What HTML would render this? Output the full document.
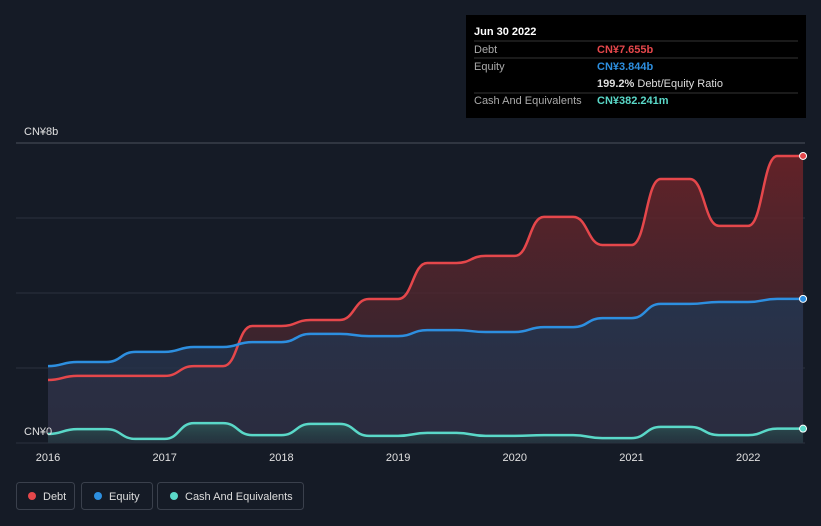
<!DOCTYPE html>
<html><head><meta charset="utf-8"><style>
body{margin:0;background:#151b26;font-family:"Liberation Sans",sans-serif;}
svg{display:block}
</style></head><body>
<svg width="821" height="526" id="chart">
<defs>
<linearGradient id="dg" x1="0" y1="0" x2="0" y2="1"><stop offset="0" stop-color="#6b2328" stop-opacity="0.9"/><stop offset="1" stop-color="#3a2a35" stop-opacity="0.6"/></linearGradient>
<linearGradient id="eg" x1="0" y1="0" x2="0" y2="1"><stop offset="0" stop-color="#23354f" stop-opacity="0.9"/><stop offset="1" stop-color="#2a2f45" stop-opacity="0.7"/></linearGradient>
<linearGradient id="cg" x1="0" y1="0" x2="0" y2="1"><stop offset="0" stop-color="#2e5a58" stop-opacity="0.8"/><stop offset="1" stop-color="#1f3a3e" stop-opacity="0.5"/></linearGradient>
</defs>
<g id="grid"></g>
<g id="areas"></g>
<g id="lines"></g>
<g id="xaxis"></g>
<text x="24" y="135" fill="#e0e0e0" font-size="11">CN¥8b</text>
<text x="24" y="435" fill="#e0e0e0" font-size="11">CN¥0</text>
<g>
<rect x="466" y="15" width="340" height="103" fill="#000"/>
<text x="474" y="35" fill="#fff" font-size="11" font-weight="bold">Jun 30 2022</text>
<line x1="474" y1="41" x2="798" y2="41" stroke="#333"/>
<text x="474" y="53" fill="#aaa" font-size="11">Debt</text>
<text x="597" y="53" fill="#e5474b" font-size="11" font-weight="bold">CN¥7.655b</text>
<line x1="474" y1="58" x2="798" y2="58" stroke="#333"/>
<text x="474" y="70" fill="#aaa" font-size="11">Equity</text>
<text x="597" y="70" fill="#2d8fe0" font-size="11" font-weight="bold">CN¥3.844b</text>
<text x="597" y="87" fill="#ddd" font-size="11"><tspan font-weight="bold">199.2%</tspan> Debt/Equity Ratio</text>
<line x1="474" y1="93" x2="798" y2="93" stroke="#333"/>
<text x="474" y="104" fill="#aaa" font-size="11">Cash And Equivalents</text>
<text x="597" y="104" fill="#5ad8c8" font-size="11" font-weight="bold">CN¥382.241m</text>
</g>
<g>
<rect x="16.5" y="482.5" width="58" height="27" rx="3" fill="none" stroke="#3a404c"/>
<circle cx="32" cy="496" r="4" fill="#e5474b"/><text x="43" y="500" fill="#ddd" font-size="11">Debt</text>
<rect x="81.5" y="482.5" width="71" height="27" rx="3" fill="none" stroke="#3a404c"/>
<circle cx="98" cy="496" r="4" fill="#2d8fe0"/><text x="109" y="500" fill="#ddd" font-size="11">Equity</text>
<rect x="157.5" y="482.5" width="146" height="27" rx="3" fill="none" stroke="#3a404c"/>
<circle cx="174" cy="496" r="4" fill="#5ad8c8"/><text x="185" y="500" fill="#ddd" font-size="11">Cash And Equivalents</text>
</g>
</svg>
<script>
const times=[2016,2016.25,2016.5,2016.75,2017,2017.25,2017.5,2017.75,2018,2018.25,2018.5,2018.75,2019,2019.25,2019.5,2019.75,2020,2020.25,2020.5,2020.75,2021,2021.25,2021.5,2021.75,2022,2022.25,2022.47];
const debt=[1.68,1.79,1.79,1.79,1.79,2.05,2.05,3.12,3.12,3.28,3.28,3.84,3.84,4.8,4.8,4.99,4.99,6.03,6.03,5.28,5.28,7.04,7.04,5.79,5.79,7.655,7.655];
const equity=[2.05,2.16,2.16,2.43,2.43,2.56,2.56,2.69,2.69,2.91,2.91,2.85,2.85,3.01,3.01,2.96,2.96,3.09,3.09,3.33,3.33,3.71,3.71,3.76,3.76,3.844,3.844];
const cash=[0.24,0.37,0.37,0.11,0.11,0.53,0.53,0.21,0.21,0.51,0.51,0.19,0.19,0.27,0.27,0.19,0.19,0.21,0.21,0.13,0.13,0.43,0.43,0.21,0.21,0.382,0.382];
const yearTicks=[2016,2017,2018,2019,2020,2021,2022];
const gridVals=[0,2,4,6,8];
const NS="http://www.w3.org/2000/svg";
const X=t=>48+(t-2016)*116.7;
const Y=v=>443-v*37.5;
function mk(tag,attrs,parent){const e=document.createElementNS(NS,tag);for(const k in attrs)e.setAttribute(k,attrs[k]);parent.appendChild(e);return e;}
function path(vals){let d="M"+X(times[0])+","+Y(vals[0]);for(let i=1;i<vals.length;i++){const x0=X(times[i-1]),x1=X(times[i]),y0=Y(vals[i-1]),y1=Y(vals[i]),m=(x0+x1)/2;d+=" C"+m+","+y0+" "+m+","+y1+" "+x1+","+y1;}return d;}
const grid=document.getElementById('grid');
gridVals.forEach(v=>{const l=mk('line',{x1:16,x2:805,y1:Y(v),y2:Y(v),stroke:v==8?'#4a505c':'#2c323e'},grid);

});
const areas=document.getElementById('areas'),lines=document.getElementById('lines');
const end=X(times[times.length-1]),start=X(times[0]);
[[debt,'url(#dg)','#e5474b','debt'],[equity,'url(#eg)','#2d8fe0','equity'],[cash,'url(#cg)','#5ad8c8','cash']].forEach(([vals,fill,col,name])=>{
const a=mk('path',{d:path(vals)+" L"+end+","+Y(0)+" L"+start+","+Y(0)+" Z",fill:fill},areas);


const l=mk('path',{d:path(vals),fill:'none',stroke:col,'stroke-width':2.5},lines);


const c=mk('circle',{cx:end,cy:Y(vals[vals.length-1]),r:3.5,fill:col,stroke:'#fff','stroke-width':1},lines);


});
const xa=document.getElementById('xaxis');
yearTicks.forEach(y=>{const t=mk('text',{x:X(y),y:461,fill:'#e0e0e0','font-size':11,'text-anchor':'middle'},xa);t.textContent=y;

});
</script>
</body></html>
